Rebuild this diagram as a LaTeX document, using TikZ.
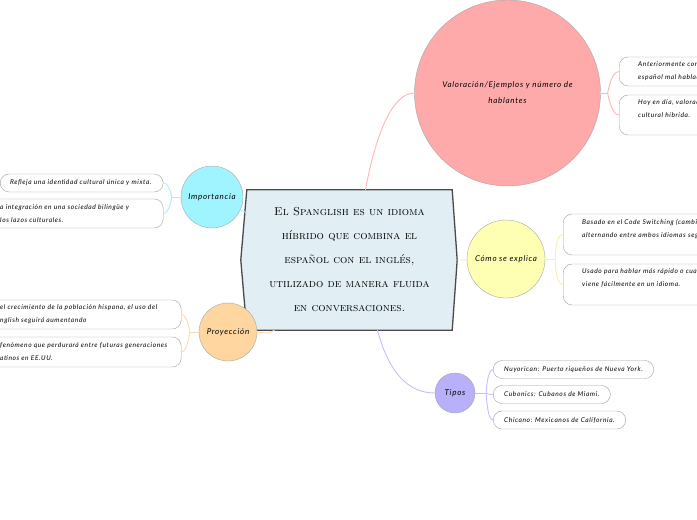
\documentclass[tikz,border=0pt]{standalone}
\usepackage{fontspec}
\usepackage{xcolor}
\usetikzlibrary{backgrounds}
\newfontfamily\leaffont[LetterSpace=9]{Lato}
\setlength{\parindent}{0pt}

\begin{document}
\begin{tikzpicture}[x=1pt,y=-1pt,
  topic/.style={circle,draw=gray!70,inner sep=0pt,align=center,font=\leaffont\itshape\fontsize{8}{16}\selectfont},
  leaf/.style={draw=gray!75,fill=white,rounded corners=9pt,inner xsep=11pt,inner ysep=0pt,align=left,anchor=west,font=\leaffont\itshape\fontsize{6.6}{13}\selectfont},
  wideleaf/.style={leaf,inner xsep=19pt},
  branch/.style={line width=0.9pt}]
\definecolor{skyice}{HTML}{E1EEF4}
\definecolor{slate}{HTML}{4A4A4A}
\definecolor{rosepink}{HTML}{FFAAAA}
\definecolor{aqua}{HTML}{A0F4FF}
\definecolor{apricot}{HTML}{FFD5A0}
\definecolor{lemon}{HTML}{FFFFB3}
\definecolor{lilac}{HTML}{B8B0F8}
\definecolor{roseline}{HTML}{FFB5B5}
\definecolor{aqualine}{HTML}{A5EEFA}
\definecolor{apricotline}{HTML}{FFD9AE}
\definecolor{lemonline}{HTML}{F8F0A0}
\definecolor{lilacline}{HTML}{C5BDFF}
\useasboundingbox (0,0) rectangle (697,520);
\clip (0,0) rectangle (697,520);

% central idea
\node (spang) [minimum width=205pt, minimum height=140pt, align=center, font=\fontsize{11.5}{24}\selectfont\scshape] at (349.5,260)
  {El Spanglish es un idioma\\ híbrido que combina el\\ español con el inglés,\\ utilizado de manera fluida\\ en conversaciones.};
\begin{scope}[on background layer]
\draw[fill=skyice, draw=slate, line width=1.3pt] (spang.north west) -- (spang.north east) -- ([xshift=5pt]spang.east)
  -- (spang.south east) -- (spang.south west) -- ([xshift=-6pt]spang.west) -- cycle;
\end{scope}

% main topics
\node (val) [topic, fill=rosepink, minimum size=186pt] at (507.5,93) {Valoración/Ejemplos y número de\\ hablantes};
\node (imp) [topic, fill=aqua, minimum size=62pt] at (212,197) {Importancia};
\node (pro) [topic, fill=apricot, minimum size=58pt] at (228,332) {Proyección};
\node (exp) [topic, fill=lemon, minimum size=78pt] at (506,259) {Cómo se explica};
\node (tip) [topic, fill=lilac, minimum size=40pt] at (455,393) {Tipos};

% leaves
\node (imp1) [leaf, inner xsep=10pt, text width=143pt, minimum height=18pt] at (0,183) {Refleja una identidad cultural única y mixta.};
\node (imp2) [leaf, inner xsep=10pt, text width=153pt, minimum height=29pt] at (-10,213.5) {a integración en una sociedad bilingüe y\\ los lazos culturales.};
\node (pro1) [leaf, inner xsep=10pt, text width=171pt, minimum height=29pt] at (-10,314.5) {el crecimiento de la población hispana, el uso del\\ nglish seguirá aumentando};
\node (pro2) [leaf, inner xsep=10pt, text width=171pt, minimum height=30pt] at (-10,352) {fenómeno que perdurará entre futuras generaciones\\ atinos en EE.UU.};
\node (val1) [wideleaf, text width=120pt, minimum height=29pt] at (619,71.5) {Anteriormente con\\ español mal hablado};
\node (val2) [wideleaf, text width=120pt, minimum height=40pt] at (619,115) {Hoy en día, valorado\\ cultural híbrida.\\ ~};
\node (exp1) [wideleaf, text width=160pt, minimum height=41pt] at (563,234.5) {Basado en el Code Switching (cambio\\ alternando entre ambos idiomas según\\ ~};
\node (exp2) [wideleaf, text width=160pt, minimum height=41pt] at (563,284.5) {Usado para hablar más rápido o cuando\\ viene fácilmente en un idioma.\\ ~};
\foreach \nm/\ypos/\txt in {tip1/369.5/{Nuyorican: Puerto riqueños de Nueva York.},
    tip2/394.5/{Cubonics: Cubanos de Miami.}, tip3/420/{Chicano: Mexicanos de California.}}
  {\node (\nm) [leaf, minimum height=18pt] at (493,\ypos) {\txt};}

% connectors to the centre
\draw[branch, roseline] ([xshift=16pt]spang.north) .. controls +(10,-55) and +(-22,0) .. (val.west);
\draw[branch, aqualine] (imp) -- (spang);
\draw[branch, apricotline] (pro.east) .. controls +(12,1) and +(-8,4) .. ([xshift=-75pt]spang.south);
\draw[branch, lemonline] ([xshift=5pt]spang.east) -- (exp);
\draw[branch, lilacline] ([xshift=28pt]spang.south) .. controls +(12,45) and +(-25,0) .. (tip.west);

% connectors to the leaves
\draw[branch, aqualine] (imp.west) -- ++(-9,0) coordinate (impfork);
\foreach \lf in {imp1,imp2}
  {\draw[branch, aqualine] (impfork) .. controls +(0,0) and +(6,0) .. (\lf.east);}
\draw[branch, apricotline] (pro.west) -- ++(-9,0) coordinate (profork);
\foreach \lf in {pro1,pro2}
  {\draw[branch, apricotline] (profork) .. controls +(0,0) and +(6,0) .. (\lf.east);}
\draw[branch, roseline] (val.east) -- ++(7,0) coordinate (valfork);
\foreach \lf in {val1,val2}
  {\draw[branch, roseline] (valfork) .. controls +(0,0) and +(-8,0) .. (\lf.west);}
\draw[branch, lemonline] (exp.east) -- ++(10,0) coordinate (expfork);
\foreach \lf in {exp1,exp2}
  {\draw[branch, lemonline] (expfork) .. controls +(0,0) and +(-8,0) .. (\lf.west);}
\draw[branch, lilacline] (tip.east) -- ++(11,0) coordinate (tipfork);
\foreach \lf in {tip1,tip2,tip3}
  {\draw[branch, lilacline] (tipfork) .. controls +(0,0) and +(-6,0) .. (\lf.west);}
\end{tikzpicture}
\end{document}
